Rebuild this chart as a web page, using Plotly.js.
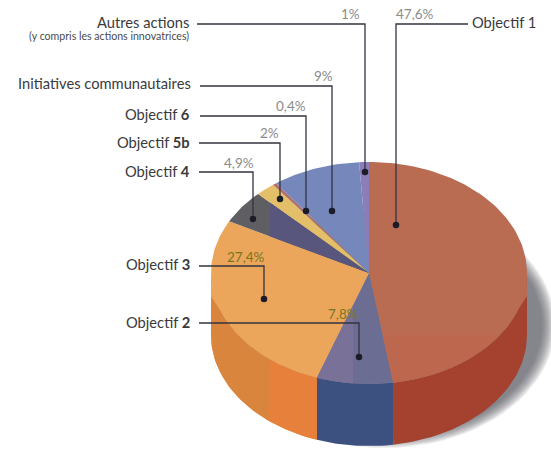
<!DOCTYPE html>
<html>
<head>
<meta charset="utf-8">
<script src="https://cdn.plot.ly/plotly-3.0.1.min.js"></script>
<style>html,body{margin:0;padding:0;background:#fff}#chart{width:551px;height:449px}</style>
</head>
<body>
<div id="chart"></div>
<script>
// Budget shares, clockwise from twelve o'clock
var categories = ['Objectif 1', 'Objectif 2', 'Objectif 3', 'Objectif 4', 'Objectif 5b', 'Objectif 6', 'Initiatives communautaires', 'Autres actions'];
var shares = [47.6, 7.8, 27.4, 4.9, 2, 0.4, 9, 1];
var shareLabels = ['47,6%', '7,8%', '27,4%', '4,9%', '2%', '0,4%', '9%', '1%'];
var topColours = ['#b96c52', '#6c6d92', '#eba65c', '#5f5f63', '#e3bf6a', '#b0706a', '#7587bb', '#8a7db8'];
var wallColours = ['#a5412f', '#3d5180', '#e0853c', '#5f5f63', '#e3bf6a', '#b0706a', '#7587bb', '#8a7db8'];

// Disc geometry in the 551x449 plotting space
var disc = {cx: 369, cy: 273, rx: 158, ry: 111, depth: 62, lip: 23};

// Text and leader placement, same order as the categories
var leaders = [
  {label: 'Objectif 1', side: 'right', lx: 470, ly: 22, path: [[468, 24], [396, 24], [396, 225]], px: 415, py: 14},
  {label: 'Objectif <b>2</b>', lx: 192, ly: 322, path: [[199, 323], [359, 323], [359, 357]], px: 343, py: 314, olive: true},
  {label: 'Objectif <b>3</b>', lx: 192, ly: 264, path: [[199, 266], [264, 266], [264, 299]], px: 246, py: 257, olive: true},
  {label: 'Objectif <b>4</b>', lx: 192, ly: 171, path: [[199, 172], [253, 172], [253, 219]], px: 239, py: 163},
  {label: 'Objectif <b>5b</b>', lx: 192, ly: 142, path: [[199, 143], [280, 143], [280, 199]], px: 269, py: 133},
  {label: 'Objectif <b>6</b>', lx: 192, ly: 114, path: [[200, 116], [306, 116], [306, 211]], px: 291, py: 106},
  {label: 'Initiatives communautaires', lx: 193, ly: 83, path: [[200, 86], [332, 86], [332, 211]], px: 323, py: 76},
  {label: 'Autres actions', lx: 191, ly: 22, path: [[197, 24], [365, 24], [365, 172]], px: 350, py: 14}
];

// Slightly different tones on parts of some faces: [sector, axis, keep side, limit, colour]
var topTones = [
  [1, 'x', -1, 353, '#7a7199'],
  [3, 'x', 1, 270, '#58567c'],
  [0, 'y', 1, 335, '#bc674e']
];
var wallTones = [
  [2, 'x', -1, 270, '#d9853e'],
  [2, 'x', 1, 270, '#e6803a']
];

var total = shares.reduce(function (a, b) { return a + b; }, 0);
var edges = [0];
shares.forEach(function (s, i) { edges.push(edges[i] + s / total * 360); });

function rimPoint(deg, dy) {
  var a = deg * Math.PI / 180;
  return [disc.cx + disc.rx * Math.sin(a), disc.cy - disc.ry * Math.cos(a) + dy];
}
function arc(from, to, dy) {
  var pts = [], n = Math.max(2, Math.ceil(Math.abs(to - from) / 1.5));
  for (var i = 0; i <= n; i++) pts.push(rimPoint(from + (to - from) * i / n, dy));
  return pts;
}
// Keep the part of a polygon on one side of a vertical or horizontal limit
function clip(poly, axis, side, limit) {
  var k = axis === 'x' ? 0 : 1, out = [];
  poly.forEach(function (p, i) {
    var q = poly[(i + 1) % poly.length];
    var pin = (p[k] - limit) * side >= 0, qin = (q[k] - limit) * side >= 0;
    if (pin) out.push(p);
    if (pin !== qin) {
      var t = (limit - p[k]) / (q[k] - p[k]);
      out.push([p[0] + (q[0] - p[0]) * t, p[1] + (q[1] - p[1]) * t]);
    }
  });
  return out;
}
function face(poly, colour) {
  var xs = poly.map(function (p) { return p[0]; }), ys = poly.map(function (p) { return p[1]; });
  xs.push(xs[0]); ys.push(ys[0]);
  return {type: 'scatter', mode: 'lines', x: xs, y: ys, fill: 'toself', fillcolor: colour,
          line: {width: 0, color: colour}, hoverinfo: 'skip', showlegend: false};
}
function topFace(i) { return [[disc.cx, disc.cy]].concat(arc(edges[i], edges[i + 1], 0)); }
function wallFace(i) {
  var from = Math.max(edges[i], 90), to = Math.min(edges[i + 1], 270);
  if (to <= from) return null;
  return arc(from, to, 0).concat(arc(to, from, disc.depth));
}

var traces = [];

// Soft cast shadow falling to the lower right, built up from translucent discs
for (var s = 0; s < 10; s++) {
  var pts = [], grow = 1 - s / 10;
  for (var d = 0; d < 360; d += 4) {
    var a = d * Math.PI / 180;
    pts.push([disc.cx + 16 + (disc.rx + 14 * grow - 2) * Math.sin(a),
              disc.cy + disc.depth - 10 - (disc.ry + 12 * grow) * Math.cos(a)]);
  }
  traces.push(face(pts, 'rgba(85,85,90,0.11)'));
}

// Side wall
categories.forEach(function (c, i) {
  var w = wallFace(i);
  if (w) traces.push(face(w, wallColours[i]));
});
wallTones.forEach(function (t) {
  traces.push(face(clip(wallFace(t[0]), t[1], t[2], t[3]), t[4]));
});

// Top surface, with its rounded lip where it turns down at the far left and right
traces.push(face(arc(90, 118, 0).concat([[disc.cx + disc.rx, disc.cy + disc.lip]]), topColours[0]));
traces.push(face(arc(270, 242, 0).concat([[disc.cx - disc.rx, disc.cy + disc.lip]]), topColours[2]));
categories.forEach(function (c, i) { traces.push(face(topFace(i), topColours[i])); });
topTones.forEach(function (t) {
  traces.push(face(clip(topFace(t[0]), t[1], t[2], t[3]), t[4]));
});

// Leader lines ending in a dot on each sector
leaders.forEach(function (l) {
  traces.push({type: 'scatter', mode: 'lines',
    x: l.path.map(function (p) { return p[0]; }), y: l.path.map(function (p) { return p[1]; }),
    line: {color: '#33333f', width: 1.3}, hoverinfo: 'skip', showlegend: false});
  var end = l.path[l.path.length - 1];
  traces.push({type: 'scatter', mode: 'markers', x: [end[0]], y: [end[1]],
    marker: {color: '#1c1c28', size: 6.5}, hoverinfo: 'skip', showlegend: false});
});

var labelFont = {family: 'Lato, sans-serif', size: 14.7, color: '#3a3a3c'};
var annotations = [];
leaders.forEach(function (l, i) {
  annotations.push({x: l.lx, y: l.ly, xref: 'x', yref: 'y', text: l.label, showarrow: false,
    xanchor: l.side === 'right' ? 'left' : 'right', yanchor: 'middle', font: labelFont});
  annotations.push({x: l.px, y: l.py, xref: 'x', yref: 'y', text: shareLabels[i], showarrow: false,
    xanchor: 'center', yanchor: 'middle',
    font: {family: 'Lato, sans-serif', size: 13.5, color: l.olive ? '#77761f' : '#8b8b8b'}});
});
annotations.push({x: 191, y: 36, xref: 'x', yref: 'y', text: '(y compris les actions innovatrices)', showarrow: false,
  xanchor: 'right', yanchor: 'middle', font: {family: 'Lato, sans-serif', size: 10.6, color: '#4a4a4c'}});

var hidden = {visible: false, fixedrange: true};
Plotly.newPlot('chart', traces, {
  width: 551, height: 449,
  margin: {l: 0, r: 0, t: 0, b: 0},
  paper_bgcolor: '#ffffff', plot_bgcolor: '#ffffff',
  xaxis: Object.assign({range: [0, 551]}, hidden),
  yaxis: Object.assign({range: [449, 0]}, hidden),
  showlegend: false,
  annotations: annotations
}, {displayModeBar: false, staticPlot: true});
</script>
</body>
</html>
